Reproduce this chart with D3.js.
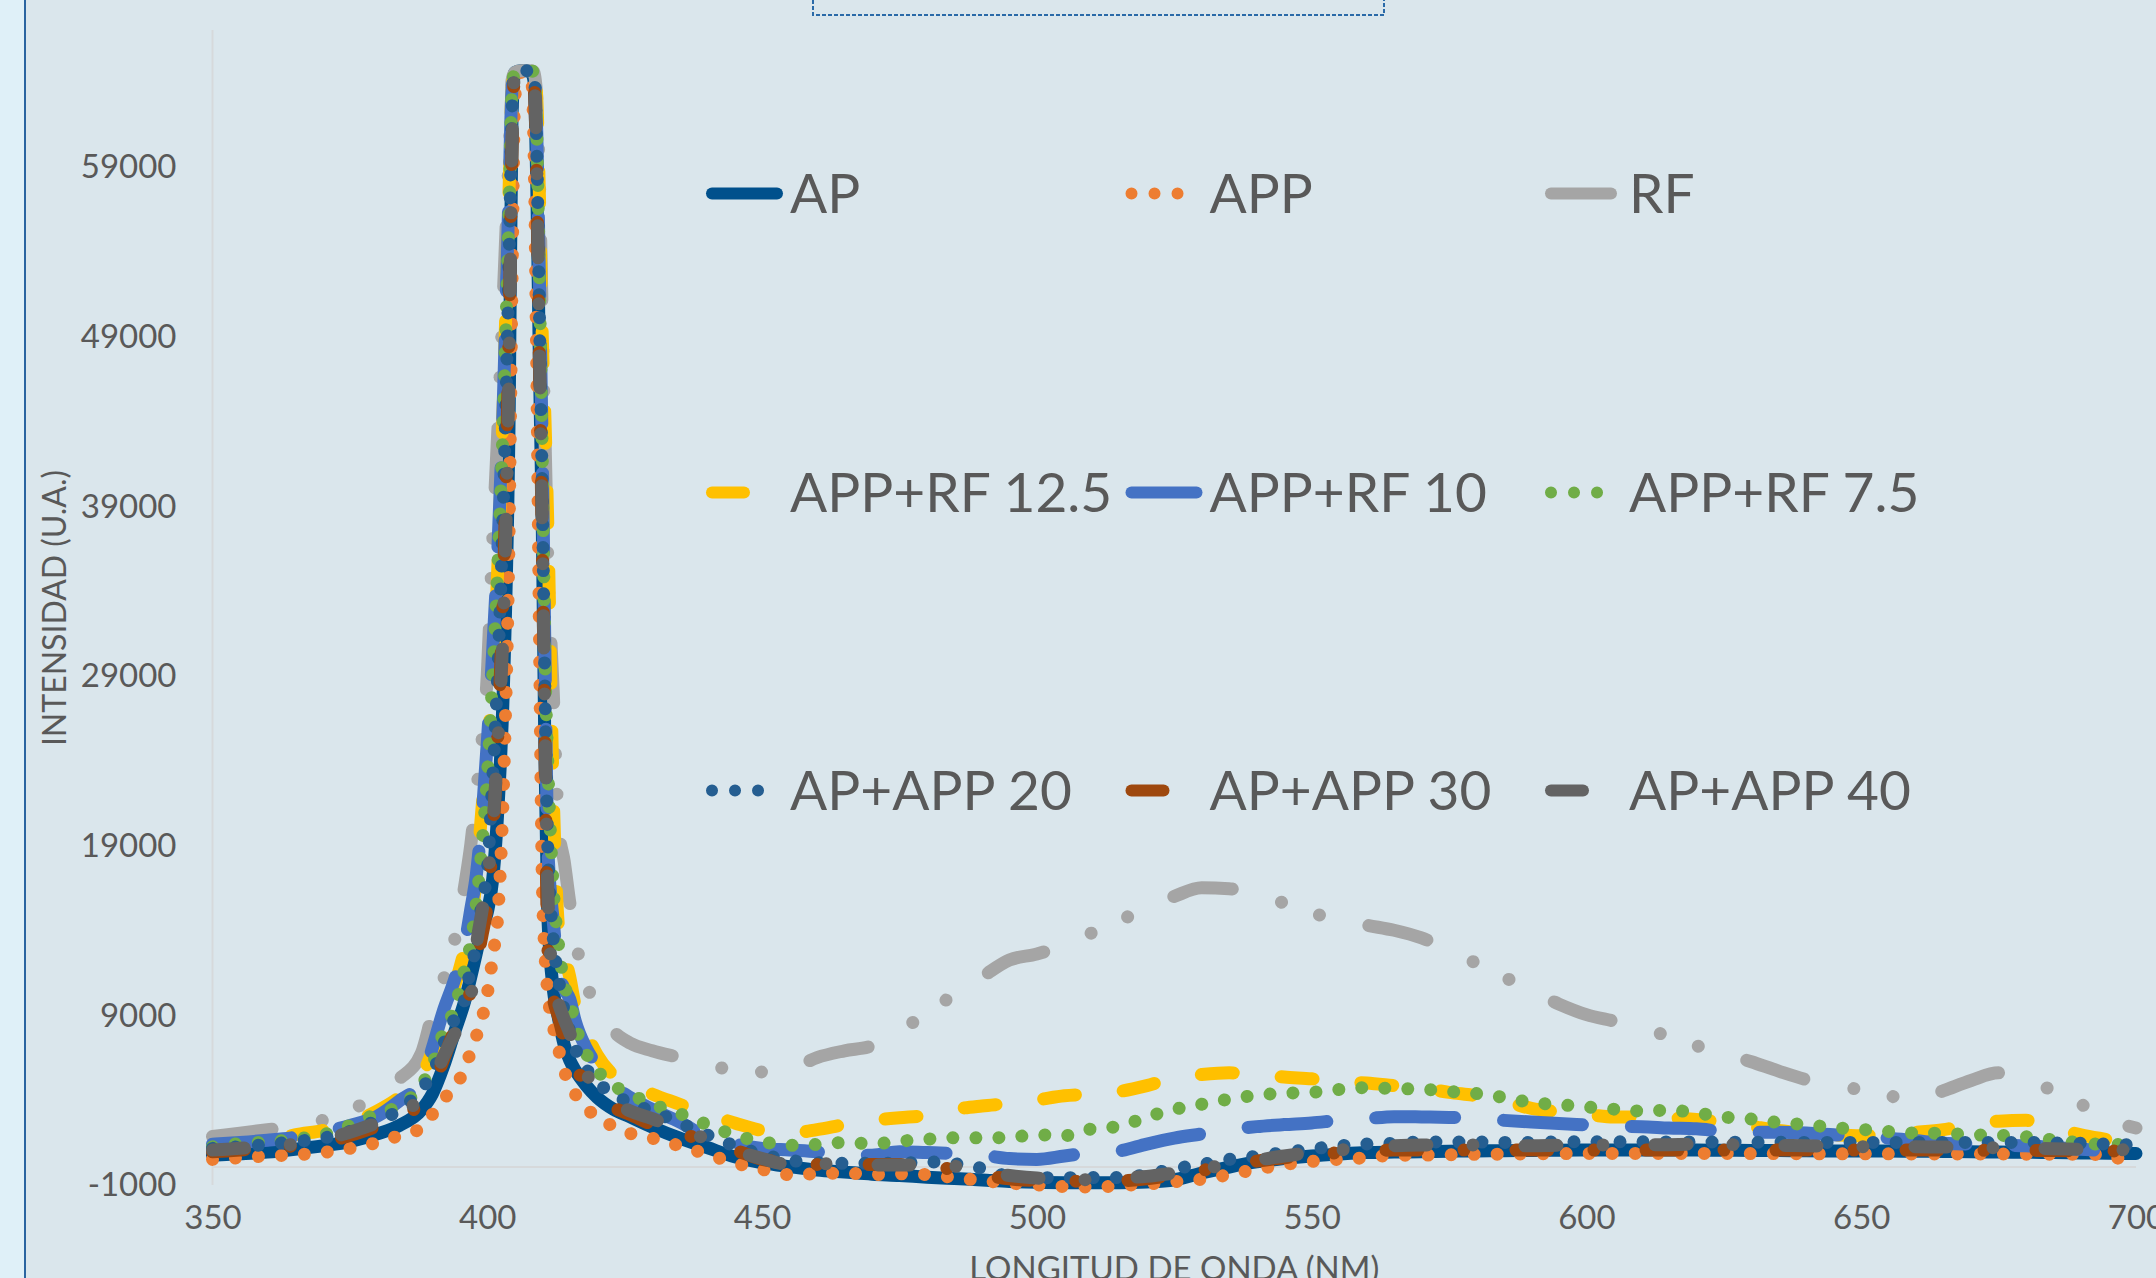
<!DOCTYPE html>
<html>
<head>
<meta charset="utf-8">
<script src="https://cdn.jsdelivr.net/npm/d3@7"></script>
<style>
  body { margin: 0; background: #dae6ec; }
  svg { display: block; font-family: Lato, 'Open Sans', sans-serif; }
  .axis text { fill: #595959; font-size: 33px; font-family: Lato, 'Open Sans', sans-serif; }
  .legend-label { fill: #595959; font-size: 55px; }
  .axis-title { fill: #595959; font-size: 32px; }
</style>
</head>
<body>
<svg id="chart"></svg>
<script>

// wavelength grid (nm), shared by all series
const wavelengths = [
  350, 355, 360, 365, 370, 375, 380, 384, 388, 390,
  392, 394, 396, 397, 398, 399, 400, 401, 402, 403,
  404, 404.5, 405, 406, 407, 408, 408.5, 409, 409.5, 410,
  410.5, 411, 412, 413, 414, 415, 416, 418, 420, 423,
  426, 430, 435, 440, 445,
  450, 455, 460, 465, 470, 475, 480, 485, 490, 495, 500,
  505, 510, 515, 520, 525, 530, 535, 540, 545, 550,
  555, 560, 565, 570, 575, 580, 585, 590, 595, 600,
  605, 610, 615, 620, 625, 630, 635, 640, 645, 650,
  655, 660, 665, 670, 675, 680, 685, 690, 695, 700
];

const apValues = [
  700, 780, 880, 1050, 1250, 1500, 1950, 2450, 3350, 4300,
  5900, 7900, 9900, 11200, 12600, 14000, 15000, 17000, 21500, 29000,
  45000, 62000, 64500, 64600, 64600, 64500, 64000, 58000, 47000, 38000,
  24000, 15000, 10500, 8700, 7200, 6300, 5700, 4800, 4100, 3400,
  2950, 2350, 1700, 1150, 600,
  250, 20, -180, -300, -420, -500, -600, -680, -760, -850, -900,
  -920, -920, -920, -880, -750, -350, 0, 300, 500, 650,
  760, 850, 880, 900, 930, 950, 960, 980, 990, 1000,
  1000, 1000, 1000, 1000, 990, 980, 970, 960, 950, 950,
  940, 930, 920, 900, 880, 870, 850, 830, 810, 800
];

const appValues = [
  450, 550, 650, 720, 850, 1100, 1450, 1850, 2300, 3100,
  4000, 4650, 5900, 6800, 7700, 8700, 10200, 12400, 15200, 23000,
  38000, 52000, 63000, 64500, 64500, 64300, 60000, 47000, 31000, 17000,
  12500, 10300, 8300, 6900, 5700, 4800, 4300, 3500, 2900, 2400,
  1980, 1700, 1250, 750, 250,
  -140, -450, -400, -350, -450, -400, -450, -620, -800, -950, -1050,
  -1150, -1180, -1100, -1000, -870, -720, -450, -130, 150, 330,
  460, 550, 700, 700, 720, 750, 760, 780, 790, 800,
  800, 800, 800, 800, 800, 790, 790, 780, 780, 780,
  780, 770, 770, 770, 770, 760, 760, 760, 700, -300
];

const rfValues = [
  1800, 2000, 2200, 2400, 2750, 3300, 4300, 5200, 6700, 9000,
  11000, 13300, 16800, 19000, 22000, 25000, 29000, 37000, 44000, 52000,
  60000, 64000, 64500, 64600, 64600, 64600, 64500, 63000, 58000, 50000,
  43000, 36000, 28000, 20000, 18000, 15600, 13500, 10800, 9500, 8000,
  7300, 6850, 6450, 6050, 5700,
  5600, 5750, 6450, 6850, 7150, 8100, 9000, 10200, 11200, 12200, 12550,
  13100, 13800, 14500, 15300, 15950, 16450, 16400, 16050, 15550, 14970,
  14600, 14250, 13950, 13500, 12800, 12000, 11200, 10400, 9600, 8980,
  8600, 8200, 7700, 7150, 6700, 6200, 5650, 5150, 4800, 4550,
  4200, 3950, 4500, 5100, 5550, 5100, 4500, 3700, 2800, 2300
];

const appRf125Values = [
  1100, 1250, 1450, 1900, 2150, 2600, 3300, 4100, 5300, 6800,
  8600, 10600, 13000, 14500, 17000, 21000, 24500, 29000, 36000, 46000,
  58000, 63500, 64500, 64600, 64600, 64600, 64500, 63000, 57000, 49000,
  44000, 38000, 22000, 14000, 12500, 11200, 9500, 7900, 6600, 5400,
  4900, 4300, 3700, 3100, 2600,
  2150, 2000, 2200, 2500, 2750, 2900, 3050, 3400, 3600, 3750, 3950,
  4200, 4300, 4450, 4800, 5250, 5450, 5550, 5450, 5300, 5200,
  5050, 4950, 4800, 4650, 4400, 4200, 3900, 3450, 3250, 3100,
  2950, 2950, 2900, 2800, 2650, 2400, 2150, 2000, 1900, 1850,
  1950, 2050, 2200, 2550, 2700, 2750, 2300, 1900, 1600, 1300
];

const appRf10Values = [
  1350, 1450, 1580, 1750, 2050, 2450, 3000, 3900, 5000, 7000,
  9200, 11000, 13300, 15200, 17200, 20500, 25000, 30500, 37000, 46000,
  58000, 63500, 64500, 64600, 64600, 64600, 64500, 61000, 52000, 42000,
  30000, 19000, 14500, 11500, 10500, 9900, 8600, 7000, 6000, 4800,
  4100, 3400, 2650, 1750, 1350,
  1100, 1000, 900, 750, 700, 900, 850, 800, 700, 500, 450,
  650, 850, 950, 1350, 1700, 1950, 2200, 2380, 2500, 2600,
  2750, 2850, 2970, 2950, 2920, 2870, 2750, 2650, 2560, 2480,
  2400, 2380, 2300, 2250, 2100, 2050, 2050, 2000, 1900, 1800,
  1700, 1550, 1400, 1350, 1300, 1250, 1150, 1050, 950, 900
];

const appRf75Values = [
  1190, 1390, 1480, 1640, 1900, 2450, 3150, 3600, 4800, 6000,
  7900, 9300, 11800, 13200, 15500, 18800, 23000, 29000, 36000, 45000,
  57000, 63500, 64500, 64600, 64600, 64600, 64500, 61000, 52000, 42000,
  30000, 24000, 16500, 13000, 10800, 9800, 8400, 6700, 5700, 4800,
  4300, 3700, 3150, 2500, 1880,
  1500, 1280, 1330, 1450, 1370, 1520, 1640, 1720, 1720, 1750, 1900,
  1850, 2250, 2400, 2950, 3400, 3700, 4000, 4230, 4350, 4400,
  4570, 4680, 4620, 4590, 4450, 4330, 4100, 3800, 3680, 3540,
  3410, 3300, 3350, 3190, 2950, 2830, 2620, 2500, 2320, 2220,
  2090, 2000, 1990, 1890, 1870, 1780, 1600, 1420, 1320, 1380
];

const apApp20Values = [
  1100, 1200, 1330, 1500, 1700, 2100, 2750, 3350, 4600, 5500,
  7200, 8700, 10000, 11800, 13000, 15500, 17500, 23000, 30000, 40000,
  54000, 62000, 64500, 64600, 64600, 64600, 64500, 60000, 50000, 40000,
  28000, 19000, 13500, 11000, 9200, 8000, 7000, 5800, 5000, 4300,
  3750, 3300, 2600, 1900, 1250,
  750, 400, 260, 220, 220, 230, 300, 200, -80, -550, -630,
  -630, -620, -620, -450, -100, 150, 450, 630, 850, 1060,
  1250, 1360, 1400, 1480, 1470, 1470, 1450, 1450, 1480, 1490,
  1490, 1490, 1480, 1480, 1470, 1460, 1460, 1450, 1450, 1450,
  1450, 1450, 1450, 1450, 1440, 1450, 1420, 1400, 1350, 1300
];

const apApp30Values = [
  900, 1000, 1100, 1250, 1450, 1850, 2400, 2900, 3800, 4700,
  6300, 8000, 9000, 10500, 12000, 13600, 15500, 19500, 26000, 35000,
  50000, 60000, 64500, 64600, 64600, 64500, 64000, 58000, 47000, 37000,
  25000, 13000, 10000, 8800, 7500, 6600, 5900, 4900, 4200, 3500,
  3100, 2500, 2050, 1450, 1000,
  450, 250, 150, 120, 150, 150, 50, -150, -450, -700, -800,
  -850, -800, -800, -700, -450, -200, 100, 350, 550, 700,
  850, 950, 1000, 1000, 1000, 1000, 1000, 1000, 1000, 1000,
  1000, 1000, 1000, 1000, 1000, 1000, 1000, 1000, 1000, 1000,
  1000, 1000, 1000, 990, 980, 980, 970, 960, 950, 950
];

const apApp40Values = [
  1000, 1100, 1200, 1350, 1600, 2050, 2600, 3100, 4100, 5000,
  6500, 7800, 9000, 10000, 13000, 15000, 17000, 20000, 25500, 33000,
  48000, 60000, 64500, 64600, 64600, 64500, 64200, 59000, 48000, 38000,
  26000, 16500, 10800, 9600, 8700, 7900, 6900, 5500, 4600, 3800,
  3300, 2850, 2200, 1650, 1000,
  500, 150, 200, 150, 120, 120, 130, 50, -250, -500, -650,
  -700, -750, -650, -550, -350, -100, 150, 400, 650, 850,
  1000, 1100, 1250, 1300, 1300, 1300, 1250, 1250, 1280, 1300,
  1300, 1300, 1320, 1350, 1330, 1300, 1280, 1250, 1230, 1200,
  1200, 1200, 1180, 1150, 1130, 1100, 1080, 1050, 1030, 1000
];

const seriesNames = ['AP', 'APP', 'RF', 'APP+RF 12.5', 'APP+RF 10', 'APP+RF 7.5', 'AP+APP 20', 'AP+APP 30', 'AP+APP 40'];
const seriesValues = [apValues, appValues, rfValues, appRf125Values, appRf10Values, appRf75Values, apApp20Values, apApp30Values, apApp40Values];

const yTicks = [-1000, 9000, 19000, 29000, 39000, 49000, 59000];
const xTicks = [350, 400, 450, 500, 550, 600, 650, 700];


class SpectrumChart {

  constructor(_config, _data) {
    this.config = {
      parentElement: _config.parentElement,
      containerWidth: _config.containerWidth || 2156,
      containerHeight: _config.containerHeight || 1278,
      margin: { top: 30, bottom: 94, right: 20, left: 212.5 },
      lineWidth: 13
    }
    this.data = _data;
    this.initVis();
  }

  initVis() {
    let vis = this;

    vis.width = vis.config.containerWidth - vis.config.margin.left - vis.config.margin.right;
    vis.height = vis.config.containerHeight - vis.config.margin.top - vis.config.margin.bottom;

    vis.xScale = d3.scaleLinear()
        .domain([350, 700])
        .range([0, vis.width]);

    vis.yScale = d3.scaleLinear()
        .domain([-1000, 67000])
        .range([vis.height, 0]);

    vis.xAxis = d3.axisBottom(vis.xScale)
        .tickValues(xTicks)
        .tickSize(0)
        .tickPadding(22)
        .tickFormat(d => String(d));

    vis.yAxis = d3.axisLeft(vis.yScale)
        .tickValues(yTicks)
        .tickSize(0)
        .tickPadding(36)
        .tickFormat(d => String(d));

    // excel line styles, by series
    vis.color = d3.scaleOrdinal()
        .domain(seriesNames)
        .range(['#00508c', '#ed7d31', '#a5a5a5', '#ffc000', '#4472c4', '#70ad47', '#255e91', '#9e480e', '#636363']);

    // dash arrays already take the round caps into account
    const dot = '0.01 23';
    const dash = '32 48';
    const lgDash = '79 49';
    const dashDot = '32 46 0.01 52';
    const lgDashDotDot = '60 51 0.01 40 0.01 50.5';
    vis.dash = d3.scaleOrdinal()
        .domain(seriesNames)
        .range([null, dot, lgDashDotDot, dash, lgDash, dot, dot, dashDot, dashDot]);

    vis.svg = d3.select(vis.config.parentElement)
        .attr('width', vis.config.containerWidth)
        .attr('height', vis.config.containerHeight);

    vis.svg.append('rect')
        .attr('width', vis.config.containerWidth)
        .attr('height', vis.config.containerHeight)
        .attr('fill', '#dae6ec');

    // left edge strip + border
    vis.svg.append('rect')
        .attr('width', 24)
        .attr('height', vis.config.containerHeight)
        .attr('fill', '#dff0f8');
    vis.svg.append('line')
        .attr('x1', 25).attr('x2', 25)
        .attr('y1', 0).attr('y2', vis.config.containerHeight)
        .attr('stroke', '#2a64a0')
        .attr('stroke-width', 2);

    // selected title box (dashed), cut at top
    vis.svg.append('path')
        .attr('d', 'M813,0 V15 H1384 V0')
        .attr('fill', 'none')
        .attr('stroke', '#2a6aa8')
        .attr('stroke-width', 2)
        .attr('stroke-dasharray', '4 2');

    vis.chart = vis.svg.append('g')
        .attr('transform', `translate(${vis.config.margin.left},${vis.config.margin.top})`);

    // axis lines
    vis.chart.append('line')
        .attr('x1', 0).attr('x2', 0)
        .attr('y1', 0).attr('y2', vis.height + 1)
        .attr('stroke', '#d6d9db')
        .attr('stroke-width', 2);
    vis.chart.append('line')
        .attr('x1', 0).attr('x2', vis.width)
        .attr('y1', vis.yScale(0)).attr('y2', vis.yScale(0))
        .attr('stroke', '#d6d9db')
        .attr('stroke-width', 2);

    vis.xAxisG = vis.chart.append('g')
        .attr('class', 'axis x-axis')
        .attr('transform', `translate(0,${vis.height})`);

    vis.yAxisG = vis.chart.append('g')
        .attr('class', 'axis y-axis');

    vis.linesG = vis.chart.append('g');

    vis.svg.append('text')
        .attr('class', 'axis-title')
        .attr('transform', 'translate(66,608) rotate(-90)')
        .style('text-anchor', 'middle')
        .text('INTENSIDAD (U.A.)');

    vis.svg.append('text')
        .attr('class', 'axis-title')
        .attr('x', vis.config.margin.left + vis.width / 2)
        .attr('y', 1280)
        .style('text-anchor', 'middle')
        .style('font-size', '33px')
        .text('LONGITUD DE ONDA (NM)');

    // legend, 3 x 3
    const legCols = [712, 1131.5, 1551];
    const legRows = [193.5, 492.5, 790.5];
    vis.legend = vis.svg.selectAll('.legend-item')
        .data(seriesNames)
      .join('g')
        .attr('class', 'legend-item')
        .attr('transform', (d, i) => `translate(${legCols[i % 3]},${legRows[Math.floor(i / 3)]})`);

    vis.legend.append('line')
        .attr('x1', 0).attr('x2', 65)
        .attr('y1', 0).attr('y2', 0)
        .attr('stroke', d => vis.color(d))
        .attr('stroke-width', 12)
        .attr('stroke-linecap', 'round')
        .attr('stroke-dasharray', d => vis.dash(d));

    vis.legend.append('text')
        .attr('class', 'legend-label')
        .attr('x', 78)
        .attr('y', 19.5)
        .text(d => d);

    vis.updateVis();
  }

  updateVis() {
    let vis = this;

    vis.series = seriesNames.map((name, i) => ({
      name: name,
      values: wavelengths.map((nm, j) => ({ nm: nm, v: vis.data[i][j] }))
    }));

    vis.line = d3.line()
        .x(d => vis.xScale(d.nm))
        .y(d => vis.yScale(d.v))
        .curve(d3.curveMonotoneX);

    vis.renderVis();
  }

  renderVis() {
    let vis = this;

    vis.linesG.selectAll('.series')
        .data(vis.series)
      .join('path')
        .attr('class', 'series')
        .attr('d', d => vis.line(d.values))
        .attr('fill', 'none')
        .attr('stroke', d => vis.color(d.name))
        .attr('stroke-width', vis.config.lineWidth)
        .attr('stroke-linecap', 'round')
        .attr('stroke-linejoin', 'round')
        .attr('stroke-dasharray', d => vis.dash(d.name));

    vis.xAxisG.call(vis.xAxis);
    vis.yAxisG.call(vis.yAxis);
    vis.xAxisG.select('.domain').remove();
    vis.yAxisG.select('.domain').remove();
    vis.yAxisG.selectAll('text').attr('dy', '0.36em');
  }
}

new SpectrumChart({ parentElement: '#chart' }, seriesValues);

</script>
</body>
</html>
